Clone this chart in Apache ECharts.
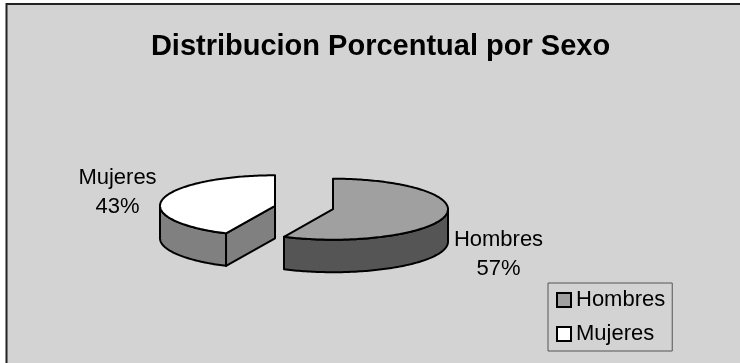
<!DOCTYPE html>
<html><head><meta charset="utf-8">
<style>html,body{margin:0;padding:0;background:#fff}#c{width:740px;height:363px}</style>
<script src="https://cdn.jsdelivr.net/npm/echarts@6/dist/echarts.min.js"></script>
</head><body><div id="c"></div>
<script>
const categories = ['Hombres', 'Mujeres'];
const values = [57, 43];
const titleText = 'Distribucion Porcentual por Sexo';
const topColors = ['#a0a0a0', '#ffffff'];
const wallColors = ['#555555', '#808080'];

const total = values.reduce((a, b) => a + b, 0);
const FONT = '"Liberation Sans", Arial, sans-serif';
const geo = { cx: 304, cy: 207.5, rx: 115, ry: 30.5, depth: 32.5, explode: 29.7 };
const labelPos = [{ x: 498.5, y: 254 }, { x: 117.5, y: 192 }];

function startAngle(i) {
  let s = 0;
  for (let k = 0; k < i; k++) s += values[k];
  return s / total * Math.PI * 2;
}
function renderSector(params, api) {
  const i = params.seriesIndex;
  const a0 = startAngle(i);
  const a1 = a0 + api.value(0) / total * Math.PI * 2;
  const mid = (a0 + a1) / 2;
  const cx = geo.cx + Math.sin(mid) * geo.explode;
  const cy = geo.cy - Math.cos(mid) * geo.explode * geo.ry / geo.rx;
  const pt = (a, dz) => [cx + Math.sin(a) * geo.rx, cy - Math.cos(a) * geo.ry + (dz || 0)];
  const arc = (from, to, dz) => {
    const n = Math.max(2, Math.ceil(Math.abs(to - from) / 0.02));
    const out = [];
    for (let k = 0; k <= n; k++) out.push(pt(from + (to - from) * k / n, dz));
    return out;
  };
  const stroke = { stroke: '#000', lineWidth: 2, lineJoin: 'round' };
  const children = [];
  const poly = (points, fill) => children.push({
    type: 'polygon', shape: { points }, style: Object.assign({ fill }, stroke)
  });
  const w0 = Math.max(a0, Math.PI / 2), w1 = Math.min(a1, Math.PI * 1.5);
  if (w1 > w0) poly(arc(w0, w1, 0).concat(arc(w1, w0, geo.depth)), wallColors[i]);
  const d = geo.depth;
  if (Math.sin(a0) < -1e-6) poly([[cx, cy], pt(a0, 0), pt(a0, d), [cx, cy + d]], wallColors[i]);
  if (Math.sin(a1) > 1e-6) poly([[cx, cy], pt(a1, 0), pt(a1, d), [cx, cy + d]], wallColors[i]);
  poly([[cx, cy]].concat(arc(a0, a1, 0)), topColors[i]);
  children.push({
    type: 'text',
    style: {
      text: categories[i] + '\n' + Math.round(api.value(0) / total * 100) + '%',
      x: labelPos[i].x, y: labelPos[i].y, align: 'center', verticalAlign: 'middle',
      font: '22px ' + FONT, lineHeight: 29, fill: '#000'
    }
  });
  return { type: 'group', children };
}

const chart = echarts.init(document.getElementById('c'), null, { renderer: 'canvas' });
chart.setOption({
  animation: false,
  backgroundColor: '#ffffff',
  graphic: [
    { type: 'rect', z: -10, silent: true, shape: { x: 6, y: 3, width: 734, height: 360 },
      style: { fill: '#d3d3d3' } },
    { type: 'polyline', z: -9, silent: true,
      shape: { points: [[6.5, 363], [6.5, 4], [740, 4]] },
      style: { fill: 'none', stroke: '#222222', lineWidth: 2 } }
  ],
  title: {
    text: titleText, left: 375.5, top: 27, textAlign: 'center',
    textStyle: { fontFamily: FONT, fontWeight: 'bold', fontSize: 29, color: '#000' }
  },
  legend: {
    orient: 'vertical', left: 548, top: 283,
    padding: [6, 7, 6, 8], itemGap: 12, itemWidth: 14, itemHeight: 14, icon: 'rect',
    borderColor: '#555555', borderWidth: 1, backgroundColor: 'transparent',
    data: categories,
    textStyle: { fontFamily: FONT, fontSize: 22, color: '#000' }
  },
  series: categories.map((name, i) => ({
    type: 'custom', name, coordinateSystem: 'none',
    itemStyle: { color: topColors[i], borderColor: '#000', borderWidth: 2 },
    renderItem: renderSector, data: [[values[i]]]
  }))
});
</script></body></html>
